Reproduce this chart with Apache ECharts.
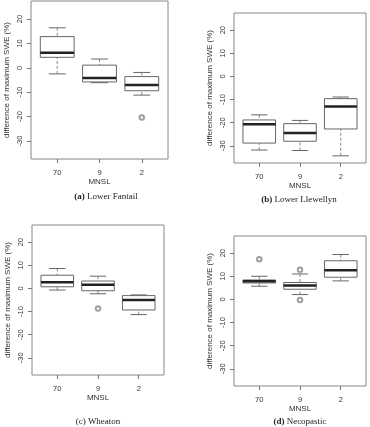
<!DOCTYPE html>
<html>
<head>
<meta charset="utf-8">
<script src="https://cdn.jsdelivr.net/npm/echarts@6/dist/echarts.min.js"></script>
<style>
  html, body { margin: 0; padding: 0; background: #fff; }
  #chart { width: 370px; height: 427px; }
</style>
</head>
<body>
<div id="chart"></div>
<script>
// MNSL groups and y ticks
const categories = ['70', '9', '2'];
const yTicks = [-30, -20, -10, 0, 10, 20];

// [min, Q1, median, Q3, max] per group
const fantail = [[-2.5, 4.3, 6.2, 12.8, 16.4], [-6.1, -5.8, -4.2, 1.1, 3.6], [-11.2, -9.4, -7.1, -3.6, -1.9]];
const llewellyn = [[-31.8, -28.8, -20.7, -18.8, -16.6], [-32.0, -28.0, -24.4, -20.4, -19.0], [-34.3, -22.7, -13.0, -9.6, -8.9]];
const wheaton = [[-0.7, 0.7, 2.7, 5.7, 8.6], [-2.3, -1.0, 1.6, 3.2, 5.3], [-11.3, -9.3, -5.0, -3.1, -2.8]];
const necopastic = [[5.7, 7.1, 7.8, 8.4, 10.0], [2.1, 4.4, 6.0, 7.3, 11.0], [8.0, 9.6, 12.6, 16.7, 19.4]];

// outliers: [group index, value]
const fantailOut = [[2, -20.4]];
const llewellynOut = [];
const wheatonOut = [[1, -8.7]];
const necopasticOut = [[0, 17.4], [1, 12.8], [1, -0.3]];

const panels = [
  { box: fantail, out: fantailOut, tag: 'a', name: 'Lower Fantail', grid: { left: 31, top: 1, width: 137, height: 158 }, cap: [106, 197] },
  { box: llewellyn, out: llewellynOut, tag: 'b', name: 'Lower Llewellyn', grid: { left: 234, top: 13, width: 132, height: 150 }, cap: [299, 200] },
  { box: wheaton, out: wheatonOut, tag: 'c', name: 'Wheaton', grid: { left: 32, top: 225, width: 132, height: 150 }, cap: [98, 422] },
  { box: necopastic, out: necopasticOut, tag: 'd', name: 'Necopastic', grid: { left: 234, top: 236, width: 132, height: 150 }, cap: [300, 422] }
];

const sans = 'Liberation Sans';
const serif = 'Liberation Serif';
const lineCol = '#666';

// R-style box: dashed whiskers, staples, box, thick median
const renderBox = (params, api) => {
  const x = api.value(0);
  const lo = api.coord([x, api.value(1)]);
  const q1 = api.coord([x, api.value(2)]);
  const md = api.coord([x, api.value(3)]);
  const q3 = api.coord([x, api.value(4)]);
  const hi = api.coord([x, api.value(5)]);
  const w = api.size([0.8, 0])[0];
  const half = w / 2;
  const cap = w / 4;
  const solid = { stroke: lineCol, lineWidth: 1, fill: null };
  const dashed = { stroke: '#888', lineWidth: 1, lineDash: [3, 2], fill: null };
  return {
    type: 'group',
    children: [
      { type: 'line', shape: { x1: hi[0], y1: hi[1], x2: q3[0], y2: q3[1] }, style: dashed },
      { type: 'line', shape: { x1: lo[0], y1: lo[1], x2: q1[0], y2: q1[1] }, style: dashed },
      { type: 'line', shape: { x1: hi[0] - cap, y1: hi[1], x2: hi[0] + cap, y2: hi[1] }, style: solid },
      { type: 'line', shape: { x1: lo[0] - cap, y1: lo[1], x2: lo[0] + cap, y2: lo[1] }, style: solid },
      { type: 'rect', shape: { x: q3[0] - half, y: q3[1], width: w, height: q1[1] - q3[1] }, style: { stroke: lineCol, lineWidth: 1, fill: '#fff' } },
      { type: 'line', shape: { x1: md[0] - half, y1: md[1], x2: md[0] + half, y2: md[1] }, style: { stroke: '#222', lineWidth: 2.5 } }
    ]
  };
};

const option = {
  animation: false,
  grid: [],
  xAxis: [],
  yAxis: [],
  series: [],
  graphic: []
};

panels.forEach((p, i) => {
  option.grid.push(Object.assign({ show: true, borderColor: '#888', borderWidth: 1 }, p.grid));
  option.xAxis.push({
    type: 'value',
    gridIndex: i,
    min: 0.38,
    max: 3.62,
    name: 'MNSL',
    nameLocation: 'middle',
    nameGap: 19,
    nameTextStyle: { fontFamily: sans, fontSize: 8, color: '#333' },
    axisLine: { show: false, onZero: false },
    splitLine: { show: false },
    axisTick: { show: true, length: 4, customValues: [1, 2, 3], lineStyle: { color: '#777' } },
    axisLabel: {
      customValues: [1, 2, 3],
      formatter: v => categories[Math.round(v) - 1] || '',
      margin: 10,
      fontFamily: sans,
      fontSize: 7.5,
      color: '#333'
    }
  });
  option.yAxis.push({
    type: 'value',
    gridIndex: i,
    min: -37.4,
    max: 27.4,
    name: 'difference of maximum SWE (%)',
    nameLocation: 'middle',
    nameGap: 20,
    nameTextStyle: { fontFamily: sans, fontSize: 8, color: '#333' },
    axisLine: { show: false, onZero: false },
    splitLine: { show: false },
    axisTick: { show: true, length: 4, customValues: yTicks, lineStyle: { color: '#777' } },
    axisLabel: {
      customValues: yTicks,
      rotate: 90,
      margin: 7,
      fontFamily: sans,
      fontSize: 7.5,
      color: '#333'
    }
  });
  option.series.push({
    type: 'custom',
    xAxisIndex: i,
    yAxisIndex: i,
    renderItem: renderBox,
    encode: { x: 0, y: [1, 2, 3, 4, 5] },
    data: p.box.map((b, k) => [k + 1].concat(b))
  });
  option.series.push({
    type: 'scatter',
    xAxisIndex: i,
    yAxisIndex: i,
    symbol: 'emptyCircle',
    symbolSize: 4.5,
    itemStyle: { color: '#888', borderWidth: 0.8 },
    data: p.out.map(o => [o[0] + 1, o[1]])
  });
  option.graphic.push({
    type: 'text',
    x: p.cap[0],
    y: p.cap[1],
    style: {
      text: '{t|(' + p.tag + ')} ' + p.name,
      align: 'center',
      verticalAlign: 'middle',
      fontFamily: serif,
      fontSize: 9,
      fill: '#222',
      rich: { t: { fontFamily: serif, fontSize: 9, fontWeight: p.tag === 'c' ? 'normal' : 'bold', fill: '#222' } }
    }
  });
});

const chart = echarts.init(document.getElementById('chart'));
chart.setOption(option);
window.addEventListener('resize', () => chart.resize());
</script>
</body>
</html>
